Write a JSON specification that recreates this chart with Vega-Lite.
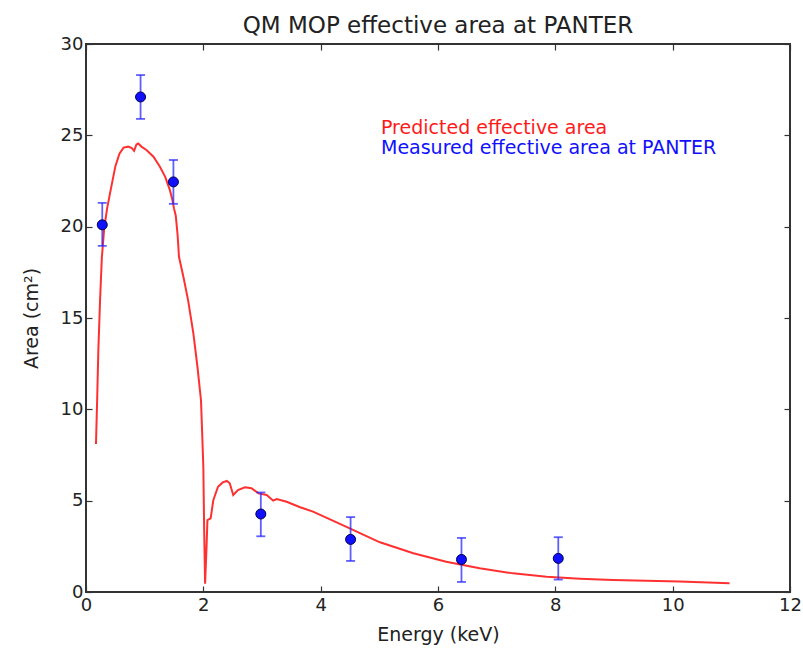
{
  "$schema": "https://vega.github.io/schema/vega-lite/v6.json",
  "width": 704,
  "height": 548,
  "autosize": {"type": "none"},
  "padding": {"left": 86, "top": 44, "right": 13, "bottom": 58},
  "background": "white",
  "title": {"text": "QM MOP effective area at PANTER", "font": "DejaVu Sans", "fontSize": 23, "fontWeight": "normal", "color": "#222222", "offset": -3},
  "config": {
    "view": {"stroke": "#333333", "strokeWidth": 2},
    "axis": {"grid": false, "domain": false, "labelFlush": false, "labelOverlap": false, "tickColor": "#333333", "tickWidth": 1.2, "tickSize": -6, "labelFont": "DejaVu Sans", "labelFontSize": 18, "labelColor": "#222222", "titleFont": "DejaVu Sans", "titleFontSize": 19, "titleFontWeight": "normal", "titleColor": "#222222"}
  },
  "datasets": {
    "pred": [
      {"E": 0.17, "A": 8.1}, {"E": 0.19, "A": 10.5}, {"E": 0.21, "A": 13.2}, {"E": 0.24, "A": 16.0},
      {"E": 0.27, "A": 18.3}, {"E": 0.31, "A": 19.9}, {"E": 0.36, "A": 21.0}, {"E": 0.42, "A": 22.0},
      {"E": 0.5, "A": 23.3}, {"E": 0.57, "A": 24.0}, {"E": 0.64, "A": 24.33}, {"E": 0.72, "A": 24.38},
      {"E": 0.78, "A": 24.3}, {"E": 0.82, "A": 24.15}, {"E": 0.86, "A": 24.5}, {"E": 0.89, "A": 24.55},
      {"E": 0.95, "A": 24.37}, {"E": 1.03, "A": 24.2}, {"E": 1.15, "A": 23.83}, {"E": 1.26, "A": 23.28},
      {"E": 1.35, "A": 22.73}, {"E": 1.43, "A": 22.0}, {"E": 1.47, "A": 21.5}, {"E": 1.5, "A": 21.0},
      {"E": 1.53, "A": 20.6}, {"E": 1.56, "A": 19.6}, {"E": 1.585, "A": 18.35}, {"E": 1.66, "A": 17.26},
      {"E": 1.74, "A": 15.98}, {"E": 1.83, "A": 14.16}, {"E": 1.9, "A": 12.33}, {"E": 1.96, "A": 10.5},
      {"E": 1.98, "A": 8.7}, {"E": 2.0, "A": 6.86}, {"E": 2.015, "A": 3.2}, {"E": 2.03, "A": 0.45},
      {"E": 2.055, "A": 2.5}, {"E": 2.07, "A": 3.94}, {"E": 2.125, "A": 4.03}, {"E": 2.17, "A": 5.03},
      {"E": 2.25, "A": 5.76}, {"E": 2.33, "A": 6.0}, {"E": 2.4, "A": 6.08}, {"E": 2.45, "A": 5.95},
      {"E": 2.51, "A": 5.31}, {"E": 2.59, "A": 5.58}, {"E": 2.71, "A": 5.73}, {"E": 2.82, "A": 5.68},
      {"E": 2.94, "A": 5.4}, {"E": 3.08, "A": 5.31}, {"E": 3.19, "A": 5.0}, {"E": 3.25, "A": 5.09},
      {"E": 3.42, "A": 4.94}, {"E": 3.65, "A": 4.64}, {"E": 3.87, "A": 4.4}, {"E": 4.44, "A": 3.57},
      {"E": 5.01, "A": 2.72}, {"E": 5.58, "A": 2.12}, {"E": 6.14, "A": 1.66}, {"E": 6.71, "A": 1.3},
      {"E": 7.28, "A": 1.02}, {"E": 7.85, "A": 0.84}, {"E": 8.42, "A": 0.73}, {"E": 8.98, "A": 0.66},
      {"E": 9.55, "A": 0.62}, {"E": 10.12, "A": 0.58}, {"E": 10.97, "A": 0.48}
    ],
    "meas": [
      {"E": 0.277, "A": 20.1, "lo": 18.95, "hi": 21.3},
      {"E": 0.93, "A": 27.1, "lo": 25.9, "hi": 28.3},
      {"E": 1.49, "A": 22.45, "lo": 21.25, "hi": 23.65},
      {"E": 2.98, "A": 4.27, "lo": 3.05, "hi": 5.45},
      {"E": 4.51, "A": 2.88, "lo": 1.7, "hi": 4.1},
      {"E": 6.4, "A": 1.78, "lo": 0.55, "hi": 2.96},
      {"E": 8.05, "A": 1.84, "lo": 0.68, "hi": 3.0}
    ]
  },
  "layer": [
    {
      "data": {"name": "pred"},
      "mark": {"type": "line", "strokeWidth": 2, "opacity": 0.9},
      "encoding": {
        "x": {"field": "E", "type": "quantitative", "scale": {"domain": [0, 12], "nice": false, "zero": false}, "axis": {"orient": "bottom", "values": [0, 2, 4, 6, 8, 10, 12], "title": "Energy (keV)", "labelPadding": 10, "titlePadding": 11}},
        "y": {"field": "A", "type": "quantitative", "scale": {"domain": [0, 30], "nice": false}, "axis": {"orient": "left", "values": [0, 5, 10, 15, 20, 25, 30], "title": "Area (cm²)", "labelPadding": 9, "titlePadding": 19}},
        "color": {"datum": "Predicted effective area", "type": "nominal",
          "scale": {"domain": ["Predicted effective area", "Measured effective area at PANTER"], "range": ["#ff1a1a", "#1010ff"]},
          "legend": {"orient": "none", "legendX": 276, "legendY": 74, "title": null, "symbolSize": 0, "symbolOpacity": 0, "symbolStrokeWidth": 0, "labelOffset": 0, "labelFont": "DejaVu Sans", "labelFontSize": 19, "labelLimit": 600, "rowPadding": 0,
            "encode": {"labels": {"update": {"fill": {"scale": "color", "field": "value"}}}}}}
      }
    },
    {
      "data": {"name": "meas"},
      "layer": [
        {
          "mark": {"type": "rule", "color": "#2a2aff", "strokeWidth": 1.8, "opacity": 0.75},
          "encoding": {
            "x": {"field": "E", "type": "quantitative", "scale": {"domain": [0, 12], "nice": false, "zero": false}, "axis": {"orient": "top", "values": [0, 2, 4, 6, 8, 10, 12], "labels": false, "title": null}},
            "y": {"field": "lo", "type": "quantitative", "scale": {"domain": [0, 30], "nice": false}, "axis": {"orient": "right", "values": [0, 5, 10, 15, 20, 25, 30], "labels": false, "title": null}},
            "y2": {"field": "hi"}
          }
        },
        {
          "mark": {"type": "tick", "orient": "horizontal", "color": "#2a2aff", "size": 9, "thickness": 1.8, "opacity": 0.75},
          "encoding": {
            "x": {"field": "E", "type": "quantitative", "scale": {"domain": [0, 12], "nice": false, "zero": false}, "axis": {"orient": "top", "values": [0, 2, 4, 6, 8, 10, 12], "labels": false, "title": null}},
            "y": {"field": "lo", "type": "quantitative", "scale": {"domain": [0, 30], "nice": false}, "axis": {"orient": "right", "values": [0, 5, 10, 15, 20, 25, 30], "labels": false, "title": null}}
          }
        },
        {
          "mark": {"type": "tick", "orient": "horizontal", "color": "#2a2aff", "size": 9, "thickness": 1.8, "opacity": 0.75},
          "encoding": {
            "x": {"field": "E", "type": "quantitative", "scale": {"domain": [0, 12], "nice": false, "zero": false}, "axis": {"orient": "top", "values": [0, 2, 4, 6, 8, 10, 12], "labels": false, "title": null}},
            "y": {"field": "hi", "type": "quantitative", "scale": {"domain": [0, 30], "nice": false}, "axis": {"orient": "right", "values": [0, 5, 10, 15, 20, 25, 30], "labels": false, "title": null}}
          }
        },
        {
          "mark": {"type": "point", "filled": true, "size": 100, "opacity": 1, "stroke": "#00004d", "strokeWidth": 1},
          "encoding": {
            "x": {"field": "E", "type": "quantitative", "scale": {"domain": [0, 12], "nice": false, "zero": false}, "axis": {"orient": "top", "values": [0, 2, 4, 6, 8, 10, 12], "labels": false, "title": null}},
            "y": {"field": "A", "type": "quantitative", "scale": {"domain": [0, 30], "nice": false}, "axis": {"orient": "right", "values": [0, 5, 10, 15, 20, 25, 30], "labels": false, "title": null}},
            "color": {"datum": "Measured effective area at PANTER", "type": "nominal"}
          }
        }
      ]
    }
  ],
  "resolve": {"scale": {"x": "independent", "y": "independent"}}
}
